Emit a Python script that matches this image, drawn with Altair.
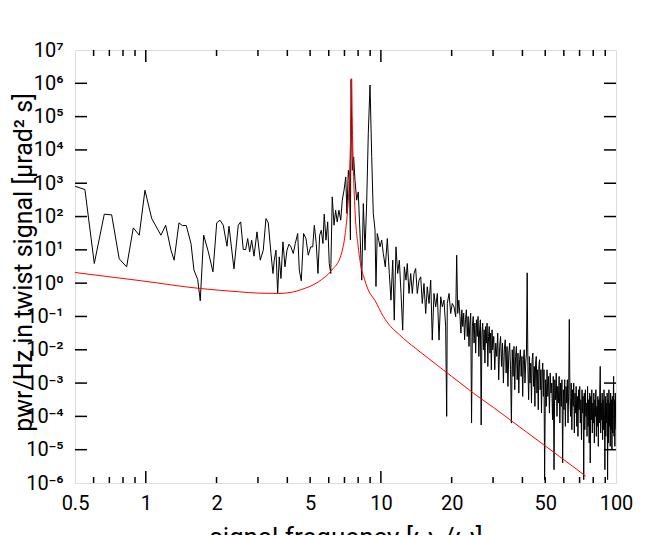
import altair as alt
import pandas as pd

black_f = [0.50, 0.551, 0.604, 0.666, 0.716, 0.771, 0.829, 0.885, 0.938, 0.992,
           1.06, 1.16, 1.215, 1.28, 1.32, 1.384, 1.43, 1.487, 1.557, 1.603,
           1.663, 1.705, 1.763, 1.845, 1.931, 2.003, 2.069, 2.136, 2.215, 2.259,
           2.372, 2.474, 2.533, 2.598, 2.66, 2.713, 2.766, 2.821, 2.886, 2.972,
           3.069, 3.16, 3.245, 3.319, 3.408, 3.475, 3.52, 3.579, 3.639, 3.696,
           3.758, 3.832, 3.909, 3.986, 4.065, 4.145, 4.24, 4.324, 4.427, 4.497,
           4.586, 4.692, 4.80, 4.91, 5.03, 5.13, 5.21, 5.31, 5.40, 5.49,
           5.58, 5.67, 5.74, 5.84, 5.94, 6.03, 6.12, 6.21, 6.32, 6.42,
           6.52, 6.63, 6.75, 6.85, 6.97, 7.09, 7.17, 7.27, 7.35, 7.42,
           7.47, 7.56, 7.66, 7.76, 7.89, 8.01, 8.15, 8.29, 8.42, 8.56,
           8.70, 8.84, 8.99, 9.14, 9.28, 9.44, 9.53, 9.65, 9.79, 9.91,
           10.08, 10.24, 10.44, 10.65, 10.86, 11.04, 11.23, 11.40, 11.59, 11.79,
           11.98, 12.18, 12.38, 12.58, 12.79, 12.95, 13.17, 13.39, 13.60, 13.83,
           14.06, 14.28, 14.53, 14.77, 15.0, 15.25, 15.51, 15.75, 16.02, 16.29,
           16.54, 16.82, 17.11, 17.38, 17.67, 17.97, 18.25, 18.55, 18.86, 19.05,
           19.16, 19.49, 19.81, 20.12, 20.46, 20.81, 21.01, 21.22, 21.45,
           21.7, 21.9, 22.1, 22.3, 22.5, 22.7, 22.9, 23.1, 23.3, 23.5,
           23.7, 23.9, 24.1, 24.3, 24.5, 24.7, 24.9, 25.1, 25.3, 25.5,
           25.7, 25.9, 26.1, 26.3, 26.5, 26.7, 26.9, 27.1, 27.3, 27.5,
           27.7, 27.9, 28.1, 28.3, 28.5, 28.7, 28.9, 29.1, 29.3, 29.5,
           29.7, 29.9,
           30.2, 30.5, 30.8, 31.1, 31.4, 31.7, 32.0, 32.3, 32.6, 32.9,
           33.2, 33.5, 33.8, 34.1, 34.4, 34.7, 35.0, 35.3, 35.6, 35.9,
           36.2, 36.5, 36.8, 37.1, 37.4, 37.7, 38.0, 38.3, 38.6, 38.9,
           39.2, 39.5, 39.8, 40.1, 40.4, 40.7, 41.0, 41.3, 41.6, 41.9,
           42.2, 42.5, 42.8, 43.1, 43.4, 43.7, 44.0, 44.3, 44.6, 44.9,
           45.2, 45.5, 45.8, 46.1, 46.4, 46.7, 47.0, 47.3, 47.6, 47.9,
           48.2, 48.5, 48.8, 49.1, 49.4, 49.7,
           50.1, 50.5, 50.9, 51.3, 51.7, 52.1, 52.5, 52.9, 53.3, 53.7,
           54.1, 54.5, 54.9, 55.3, 55.7, 56.1, 56.5, 56.9, 57.3, 57.7,
           58.1, 58.5, 58.9, 59.3, 59.7, 60.1, 60.5, 60.9, 61.3, 61.7,
           62.1, 62.5, 62.9, 63.3, 63.7, 64.1, 64.5, 64.9, 65.3, 65.7,
           66.1, 66.5, 66.9, 67.3, 67.7, 68.1, 68.5, 68.9, 69.3, 69.7,
           70.1, 70.5, 70.9, 71.3, 71.7, 72.1, 72.5, 72.9, 73.3, 73.7,
           74.1, 74.5, 74.9, 75.3, 75.7, 76.1, 76.5, 76.9, 77.3, 77.7,
           78.1, 78.5, 78.9, 79.3, 79.7, 80.1, 80.5, 80.9, 81.3, 81.7,
           82.1, 82.5, 82.9, 83.3, 83.7, 84.1, 84.5, 84.9, 85.3, 85.7,
           86.1, 86.5, 86.9, 87.3, 87.7, 88.1, 88.5, 88.9, 89.3, 89.7,
           90.1, 90.5, 90.9, 91.3, 91.7, 92.1, 92.5, 92.9, 93.3, 93.7,
           94.1, 94.5, 94.9, 95.3, 95.7, 96.1, 96.5, 96.9, 97.3, 97.7,
           98.1, 98.5, 98.9, 99.3, 99.7, 100.0]
# decimal exponents of pwr/Hz (value = 10**exp)
black_exp = [2.91, 2.81, 0.59, 2.07, 2.05, 0.73, 0.49, 1.66, 1.44, 2.79,
             1.94, 1.44, 1.74, 0.99, 0.69, 1.81, 1.73, 1.73, 1.19, 0.39,
             0.11, -0.53, 1.44, 0.94, 0.34, 1.81, 1.89, 1.74, 1.11, 1.71,
             0.43, 1.74, 1.84, 1.01, 1.01, 1.34, 0.94, 1.29, 0.81, 1.54,
             0.69, 0.99, 1.94, 1.81, 0.89, 0.29, 0.69, 0.99, -0.31, 0.79,
             0.14, 1.24, 0.49, 0.99, 1.17, 1.09, 0.89, 1.19, 1.49, 0.39,
             0.07, 1.49, 1.34, 0.84, 1.09, 1.09, 1.74, 1.19, 0.29, 1.44,
             1.59, 1.19, 2.07, 1.29, 1.84, 0.59, 0.29, 2.59, 1.74, 2.19,
             1.84, 2.19, 1.89, 2.49, 2.79, 3.19, 2.09, 3.39, 3.09, 1.30,
             6.12, 3.39, 3.79, 3.09, 2.49, 2.74, 1.50, 0.09, 2.39, 0.99,
             2.40, 4.50, 5.95, 3.80, 2.10, 1.60, -0.10, 1.49, 1.29, 1.09,
             1.29, 0.89, 0.49, 1.34, 0.29, -0.51, 0.69, -1.11, 1.09, 0.29,
             0.69, -0.31, -1.41, 0.49, 0.09, 0.59, -0.31, 0.29, -0.31, 0.29,
             0.44, -0.31, 0.09, 0.19, -0.61, -0.01, -0.91, -0.11, -0.61, 0.09,
             -1.71, -0.31, -0.71, -0.31, -1.71, -0.41, -0.71, -0.51, -1.31, -4.0,
             -0.61, -0.31, -0.91, -0.61, -0.71, -1.01, 0.84, -0.91, -0.51,
             -1.0, -1.5, -0.8, -1.3, -0.9, -1.7, -1.1, -0.8, -1.6, -1.0,
             -1.9, -1.2, -0.9, -4.2, -1.3, -1.0, -1.8, -1.2, -2.1, -1.1,
             -1.6, -1.0, -2.2, -1.4, -1.1, -4.26, -1.5, -1.2, -2.0, -1.4,
             -2.4, -1.3, -1.8, -1.2, -2.5, -1.6, -1.3, -2.1, -1.5, -2.6,
             -1.4, -2.0,
             -1.6, -2.6, -1.8, -2.2, -1.5, -2.9, -1.9, -1.6, -2.5, -1.8,
             -3.0, -2.0, -1.7, -2.7, -1.9, -3.1, -2.1, -1.8, -2.6, -4.2,
             -2.0, -2.8, -1.9, -3.2, -2.2, -1.9, -2.9, -2.1, -3.3, -2.3,
             -2.0, -2.8, -2.2, -3.4, -2.3, -2.0, -3.0, -2.4, -2.1, 0.31,
             -2.5, -3.5, -2.2, -3.0, -2.4, -3.6, -2.3, -2.1, -3.1, -2.5,
             -3.7, -2.4, -2.2, -3.3, -2.6, -3.8, -2.5, -2.3, -3.2, -2.6,
             -3.9, -2.7, -2.4, -3.4, -2.6, -5.9,
             -2.9, -3.7, -2.6, -3.4, -2.8, -3.9, -2.7, -3.3, -3.0, -4.1,
             -2.8, -5.6, -2.9, -3.5, -2.7, -4.0, -3.1, -3.6, -2.8, -4.2,
             -3.0, -3.7, -2.9, -5.4, -3.2, -3.8, -2.9, -4.3, -3.1, -3.6,
             -2.9, -4.2, -3.3, -1.09, -3.4, -4.0, -3.0, -4.4, -3.2, -3.7,
             -3.0, -4.5, -3.3, -3.9, -3.1, -4.3, -3.4, -4.6, -3.2, -3.8,
             -3.1, -4.2, -3.5, -4.7, -3.2, -3.9, -3.4, -5.9, -3.3, -4.4,
             -3.2, -4.0, -3.6, -4.6, -3.1, -4.3, -3.5, -4.8, -3.3, -5.4,
             -3.4, -4.1, -3.2, -4.5, -3.6, -4.2, -3.3, -4.8, -3.5, -4.0,
             -3.2, -4.6, -3.7, -4.3, -3.4, -4.9, -3.5, -4.2, -3.3, -2.5,
             -4.5, -3.6, -4.1, -3.3, -4.7, -3.5, -4.4, -3.2, -4.0, -5.6,
             -3.4, -4.6, -3.6, -4.2, -3.3, -5.9, -3.5, -4.8, -3.2, -4.3,
             -3.6, -4.9, -3.3, -4.4, -3.5, -5.0, -3.4, -4.5, -3.6, -2.8,
             -4.6, -3.5, -4.9, -3.3, -4.2, -4.4]

# ---- resonance model curve (red) ----
red_f = [0.5, 0.96, 1.70, 2.5, 3.01, 3.66, 4.20, 4.60, 5.42, 6.18,
         6.75, 7.04, 7.20, 7.31, 7.38, 7.44, 7.48, 7.51, 7.55, 7.62,
         7.76, 8.01, 8.29, 8.43, 8.84, 9.44, 10.24, 11.0, 12.0, 13.0,
         14.0, 16.0, 18.0, 20.0, 21.7, 25.6, 30.1, 35.4, 41.6, 49.0,
         57.6, 67.8, 74.4]
red_exp = [0.32, 0.07, -0.16, -0.26, -0.30, -0.31, -0.27, -0.19, 0.04, 0.39,
           0.82, 1.45, 2.10, 2.80, 3.60, 4.50, 5.50, 6.14, 5.00, 3.69,
           2.19, 1.09, 0.39, 0.22, -0.21, -0.52, -1.00, -1.30, -1.55, -1.77,
           -1.95, -2.27, -2.55, -2.80, -2.99, -3.38, -3.73, -4.10, -4.47, -4.84,
           -5.21, -5.58, -5.80]

# ---- axis ticks / labels ----
x_label_values = [0.5, 1, 2, 5, 10, 20, 50, 100]
x_major_ticks = [1, 10]
x_minor_ticks = [0.6, 0.7, 0.8, 0.9, 2, 3, 4, 5, 6, 7, 8, 9,
                 20, 30, 40, 50, 60, 70, 80, 90]
y_label_values = [1e-6, 1e-5, 1e-4, 1e-3, 1e-2, 1e-1, 1e0,
                  1e1, 1e2, 1e3, 1e4, 1e5, 1e6, 1e7]
y_inner_ticks = [1e-5, 1e-4, 1e-3, 1e-2, 1e-1, 1e0, 1e1, 1e2, 1e3, 1e4, 1e5, 1e6]
y_sup = ['⁻⁶', '⁻⁵', '⁻⁴', '⁻³', '⁻²', '⁻¹', '⁰', '¹', '²', '³', '⁴', '⁵', '⁶', '⁷']

W, H = 541, 433
FONT = "Roboto"

black_df = pd.DataFrame({"f": black_f, "p": [10 ** e for e in black_exp]})
red_df = pd.DataFrame({"f": red_f, "p": [10 ** e for e in red_exp]})

xscale = alt.Scale(type="log", domain=[0.5, 100], nice=False)
yscale = alt.Scale(type="log", domain=[1e-6, 1e7], nice=False)

sup_arr = "[" + ",".join("'" + s + "'" for s in y_sup) + "]"
y_label_expr = "'10' + " + sup_arr + "[round(log(datum.value)/LN10) + 6]"

x_axis = alt.Axis(values=x_label_values, format="~g", ticks=False, domain=False,
                  grid=False, labelFont=FONT, labelFontSize=20, labelColor="black",
                  labelPadding=10, labelFlush=False,
                  title="signal frequency [ω₀/ω]", titleFont=FONT, titleFontSize=26,
                  titleFontWeight="normal", titleColor="black",
                  titleBaseline="top", titleY=41)
y_axis = alt.Axis(values=y_label_values, labelExpr=y_label_expr, ticks=False,
                  domain=False, grid=False, labelFont=FONT, labelFontSize=20,
                  labelColor="black", labelPadding=12, labelFlush=False,
                  title="pwr/Hz in twist signal [µrad² s]", titleFont=FONT,
                  titleFontSize=25, titleFontWeight="normal", titleColor="black",
                  titleBaseline="alphabetic", titleX=-44, titleY=212,
                  titleAlign="center", titleAngle=270)

black = alt.Chart(black_df).mark_line(color="black", strokeWidth=1, clip=True).encode(
    x=alt.X("f:Q", scale=xscale, axis=x_axis),
    y=alt.Y("p:Q", scale=yscale, axis=y_axis),
)
red = alt.Chart(red_df).mark_line(color="#ff0000", strokeWidth=1, clip=True,
                                  interpolate="monotone").encode(
    x=alt.X("f:Q", scale=xscale, axis=x_axis),
    y=alt.Y("p:Q", scale=yscale, axis=y_axis),
)

xmaj = pd.DataFrame({"f": x_major_ticks})
xmin = pd.DataFrame({"f": x_minor_ticks})
yin = pd.DataFrame({"p": y_inner_ticks})

def xtick(df, y0, y1):
    return alt.Chart(df).mark_rule(color="black", strokeWidth=1.5).encode(
        x=alt.X("f:Q", scale=xscale, axis=x_axis),
        y=alt.value(y0), y2=alt.value(y1))

def ytick(df, x0, x1):
    return alt.Chart(df).mark_rule(color="black", strokeWidth=1.5).encode(
        y=alt.Y("p:Q", scale=yscale, axis=y_axis),
        x=alt.value(x0), x2=alt.value(x1))

ticks = [
    xtick(xmaj, H, H - 12), xtick(xmaj, 0, 12),
    xtick(xmin, H, H - 6), xtick(xmin, 0, 6),
    ytick(yin, 0, 12), ytick(yin, W, W - 12),
]

chart = alt.layer(black, red, *ticks).properties(
    width=W, height=H,
    autosize=alt.AutoSizeParams(type="none"),
    padding={"left": 67, "top": 42, "right": 27, "bottom": 52},
).configure_view(stroke="black", strokeWidth=1.5).configure(background="white")

chart.save("out.html", embed_options={"renderer": "svg", "actions": False})
